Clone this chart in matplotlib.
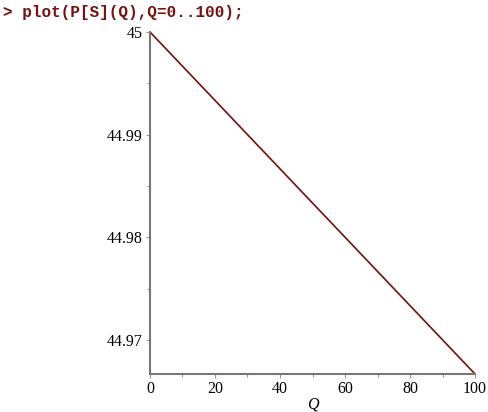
import matplotlib.pyplot as plt
from matplotlib.ticker import MultipleLocator

# Q range and supply price P[S](Q) at the ends (straight line)
q = [0, 100]
p_s = [45.0, 44.96667]

x_ticks = [0, 20, 40, 60, 80, 100]
y_ticks = [44.97, 44.98, 44.99, 45]
y_labels = ["44.97", "44.98", "44.99", "45"]

fig = plt.figure(figsize=(4.89, 4.12), dpi=100)
ax = fig.add_axes([150 / 489, 38 / 412, 325 / 489, 342 / 412])

ax.plot(q, p_s, color="#7b0d0d", lw=1.2, solid_capstyle="butt")

ax.set_xlim(0, 100)
ax.set_ylim(p_s[1], 45.0)
ax.set_xticks(x_ticks)
ax.set_yticks(y_ticks)
ax.set_yticklabels(y_labels)
ax.xaxis.set_minor_locator(MultipleLocator(10))
ax.yaxis.set_minor_locator(MultipleLocator(0.005))

for s in ["top", "right"]:
    ax.spines[s].set_visible(False)
for s in ["left", "bottom"]:
    ax.spines[s].set_color("#777777")
    ax.spines[s].set_linewidth(1.5)

ax.tick_params(which="both", direction="out", color="#999999", width=0.8,
               labelsize=11.5, pad=2)
ax.tick_params(which="major", length=3)
ax.tick_params(which="minor", length=2)
for lab in ax.get_xticklabels() + ax.get_yticklabels():
    lab.set_fontfamily("Liberation Serif")

ax.set_xlabel("Q", fontfamily="Liberation Serif", fontstyle="italic",
              fontsize=11.5, labelpad=0)

fig.text(3 / 489, 1 - 12 / 412, "> plot(P[S](Q),Q=0..100);",
         fontfamily="Liberation Mono", fontweight="bold", fontsize=11.5,
         color="#7b1010", va="center", ha="left")

fig.savefig("out.png", dpi=100)
